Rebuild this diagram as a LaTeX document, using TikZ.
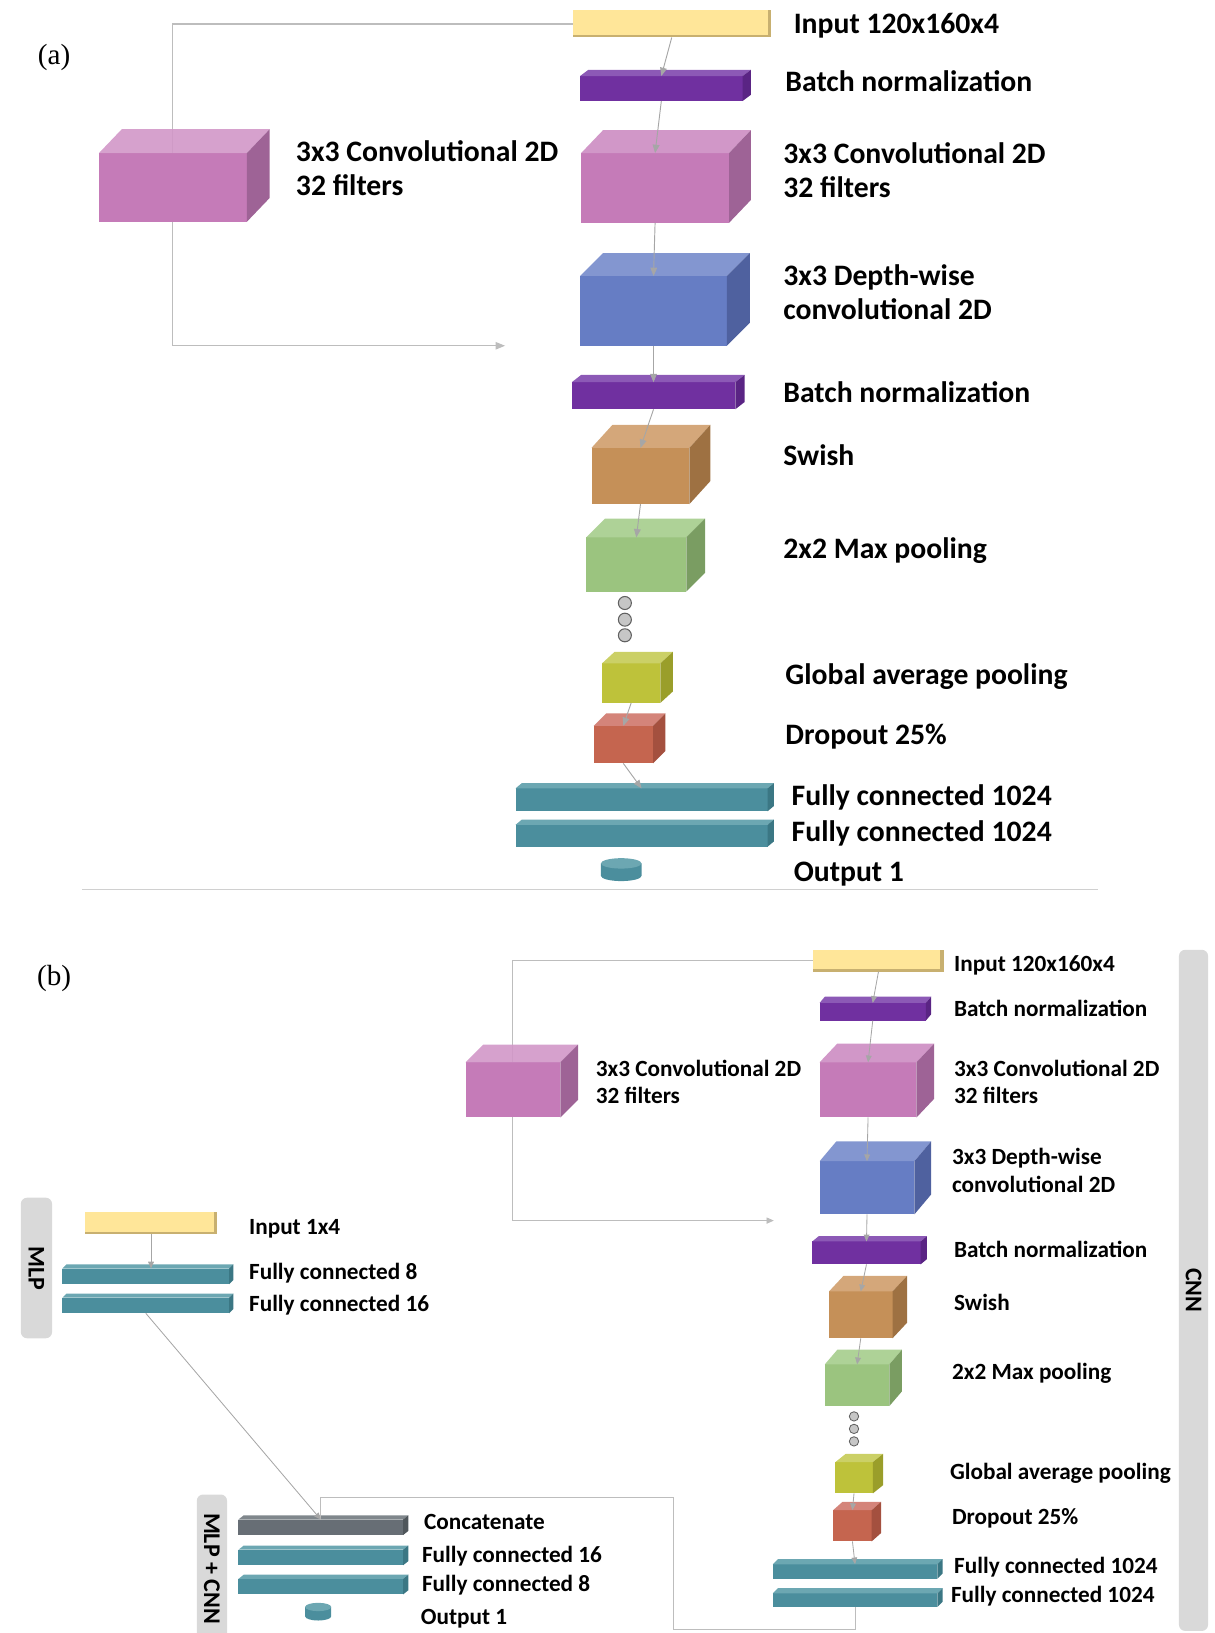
\documentclass[tikz,border=0pt]{standalone}
\usepackage{fontspec}
\setmainfont{Carlito}
\newfontfamily\serifpanel{Liberation Serif}
\usetikzlibrary{arrows.meta}
\pgfdeclarelayer{bg}
\pgfsetlayers{bg,main}
\definecolor{inp}{HTML}{FFE699}
\definecolor{inpE}{HTML}{C8B070}
\definecolor{bn}{HTML}{7030A0}\definecolor{bnT}{HTML}{8C59B6}\definecolor{bnS}{HTML}{5A2484}
\definecolor{cv}{HTML}{C57BB8}\definecolor{cvT}{HTML}{D197C8}\definecolor{cvS}{HTML}{9E6396}
\definecolor{dw}{HTML}{667DC4}\definecolor{dwT}{HTML}{8396D0}\definecolor{dwS}{HTML}{4F619F}
\definecolor{sw}{HTML}{C59058}\definecolor{swT}{HTML}{D4A77A}\definecolor{swS}{HTML}{9E7142}
\definecolor{mp}{HTML}{9BC47F}\definecolor{mpT}{HTML}{AED297}\definecolor{mpS}{HTML}{7A9D62}
\definecolor{gp}{HTML}{BEC23A}\definecolor{gpT}{HTML}{CBD066}\definecolor{gpS}{HTML}{9A9E2A}
\definecolor{dr}{HTML}{C5654F}\definecolor{drT}{HTML}{D4847A}\definecolor{drS}{HTML}{A4503F}
\definecolor{fc}{HTML}{4B8E9D}\definecolor{fcT}{HTML}{6CA7B2}\definecolor{fcS}{HTML}{3B7784}
\definecolor{ct}{HTML}{676E75}\definecolor{ctT}{HTML}{80878C}\definecolor{ctS}{HTML}{4F565B}
\definecolor{arr}{HTML}{A6A6A6}
\definecolor{skipc}{HTML}{BDBDBD}
\definecolor{barg}{HTML}{D9D9D9}
\definecolor{sepc}{HTML}{D0D0D0}
% #1 name, #2 x1, #3 y1, #4 x2, #5 y2, #6 depth x, #7 depth y, #8 colour
\newcommand{\blk}[8]{%
  \node[face,fill=#8,minimum width={(#4-#2)*1pt},minimum height={(#5-#3)*1pt}] (#1) at ({(#2+#4)/2},{(#3+#5)/2}) {};
  \fill[#8T,topface] (#1.north west) -- ++(#6,-#7) -- ++({#4-#2},0) -- (#1.north east) -- cycle;
  \fill[#8S] (#1.north east) -- ++(#6,-#7) -- ++(0,{#5-#3}) -- (#1.south east) -- cycle;
}
\newcommand{\inbar}[5]{%
  \node[face,fill=inp,minimum width={(#4-#2)*1pt},minimum height={(#5-#3)*1pt}] (#1) at ({(#2+#4)/2},{(#3+#5)/2}) {};
  \fill[inpE] ([xshift=-3pt]#1.north east) rectangle (#1.south east);
  \fill[inpE] ([yshift=2.5pt]#1.south west) rectangle (#1.south east);
}
\newcommand{\cyl}[6]{%
  \node[face,minimum width={(#4-#2)*1pt},minimum height={(#5-#3)*1pt}] (#1) at ({(#2+#4)/2},{(#3+#5)/2}) {};
  \fill[fc] ([yshift=-#6pt]#1.north west) -- ([yshift=#6pt]#1.south west)
     arc[start angle=180,end angle=360,x radius={(#4-#2)/2*1pt},y radius=#6pt]
     -- ([yshift=-#6pt]#1.north east) -- cycle;
  \fill[fcT] ([yshift=-#6pt]#1.north) ellipse[x radius={(#4-#2)/2*1pt},y radius=#6pt];
}
\begin{document}
\begin{tikzpicture}[x=1pt,y=-1pt,
  face/.style={rectangle,inner sep=0pt,outer sep=0pt,draw=none},
  topface/.style={},
  conn/.style={draw=arr,line width=0.9pt,-{Triangle[length=8pt,width=6.5pt]}},
  connb/.style={draw=arr,line width=0.8pt,-{Triangle[length=6.5pt,width=5.5pt]}},
  skipA/.style={draw=skipc,line width=1.1pt,-{Triangle[length=9pt,width=7pt]}},
  skipB/.style={draw=skipc,line width=0.9pt,-{Triangle[length=7pt,width=6pt]}},
  plain/.style={draw=skipc,line width=0.9pt},
  lblA/.style={anchor=west,inner sep=0pt,font=\bfseries\fontsize{28.5}{31}\selectfont,text height=23pt,text depth=5pt},
  lblB/.style={anchor=west,inner sep=0pt,font=\bfseries\fontsize{22.3}{24}\selectfont,text height=18pt,text depth=4pt},
  side/.style={fill=barg,rounded corners=6pt,inner sep=0pt,font=\bfseries\fontsize{23}{25}\selectfont,rotate=-90},
  dotA/.style={circle,fill=gray!45,draw=gray!75!black,line width=1pt,inner sep=0pt,minimum size=12.5pt},
  dotB/.style={circle,fill=gray!45,draw=gray!75!black,line width=0.8pt,inner sep=0pt,minimum size=9pt}
]
\useasboundingbox (0,0) rectangle (1166,1568);

% ---------------- (a) ----------------
\node[font=\serifpanel\fontsize{28}{30}\selectfont] (panA) at (52,55) {(a)};
\inbar{inA}{550}{10}{740}{36}
\blk{bn1a}{557}{73}{713}{97}{8}{6}{bn}
\blk{cva}{558}{147}{700}{214}{21}{22}{cv}
\blk{dwa}{557}{265}{698}{332}{22}{22}{dw}
\blk{bn2a}{549}{367}{706}{393}{9}{7}{bn}
\blk{swa}{568}{430}{662}{484}{20}{22}{sw}
\blk{mpa}{563}{516}{659}{568}{18}{18}{mp}
\node[dotA] (da1) at (600,579) {};
\node[dotA] (da2) at (600,595) {};
\node[dotA] (da3) at (600,610) {};
\blk{gpa}{578}{637}{634}{675}{12}{11}{gp}
\blk{dra}{570}{697}{627}{733}{12}{12}{dr}
\blk{fc1a}{495}{757}{737}{779}{6}{5}{fc}
\blk{fc2a}{495}{792}{737}{813}{6}{5}{fc}
\cyl{outA}{577}{824}{616}{846}{5}
\begin{scope}[topface/.style={fill opacity=0.9}]
\blk{cvLa}{95}{147}{237}{213}{22}{23}{cv}
\end{scope}
\coordinate (skA) at (485,332);
\begin{pgfonlayer}{bg}
\draw[skipA] (inA.west) -| (cvLa.center) |- (skA);
\end{pgfonlayer}
\draw[conn] (inA.south) -- (bn1a.north);
\draw[conn] (bn1a.south) -- (cva.north);
\draw[conn] (cva.south) -- (dwa.north);
\draw[conn] (dwa.south) -- (bn2a.north);
\draw[conn] (bn2a.south) -- (swa.north);
\draw[conn] (swa.south) -- (mpa.north);
\draw[conn] (gpa.south) -- (dra.north);
\draw[conn] (dra.south) -- (fc1a.north);

\node[lblA] (tInA) at (762,23) {Input 120x160x4};
\node[lblA] (tBn1a) at (754,79) {Batch normalization};
\node[lblA] (tCvLa1) at (284,146) {3x3 Convolutional 2D};
\node[lblA] (tCvLa2) at (284,179) {32 filters};
\node[lblA] (tCva1) at (752,148) {3x3 Convolutional 2D};
\node[lblA] (tCva2) at (752,181) {32 filters};
\node[lblA] (tDwa1) at (752,265) {3x3 Depth-wise};
\node[lblA] (tDwa2) at (752,298) {convolutional 2D};
\node[lblA] (tBn2a) at (752,377) {Batch normalization};
\node[lblA] (tSwa) at (752,438) {Swish};
\node[lblA] (tMpa) at (752,527) {2x2 Max pooling};
\node[lblA] (tGpa) at (754,648) {Global average pooling};
\node[lblA] (tDra) at (754,706) {Dropout 25\%};
\node[lblA] (tFc1a) at (760,764) {Fully connected 1024};
\node[lblA] (tFc2a) at (760,799) {Fully connected 1024};
\node[lblA] (tOuta) at (762,837) {Output 1};

\coordinate (sepL) at (79,854);
\coordinate (sepR) at (1054,854);
\draw[sepc,line width=1.5pt] (sepL) -- (sepR);

% ---------------- (b) ----------------
\node[font=\serifpanel\fontsize{28}{30}\selectfont] (panB) at (52,940) {(b)};
\node[side,minimum width=654pt,minimum height=28pt] (cnnBar) at (1146,1239) {CNN};
\node[side,minimum width=135pt,minimum height=30pt] (mlpBar) at (35,1217.5) {MLP};
\node[side,minimum width=142pt,minimum height=29pt] (mcBar) at (203.5,1506) {MLP + CNN};

\inbar{inB}{781}{912}{906}{933}
\blk{bn1b}{787}{963}{889}{980}{5}{6}{bn}
\blk{cvb}{787}{1020}{880}{1073}{17}{18}{cv}
\blk{dwb}{787}{1115}{878}{1166}{16}{19}{dw}
\blk{bn2b}{780}{1192}{884}{1214}{6}{5}{bn}
\blk{swb}{796}{1240}{857}{1285}{14}{15}{sw}
\blk{mpb}{792}{1310}{854}{1350}{12}{14}{mp}
\node[dotB] (db1) at (820,1360) {};
\node[dotB] (db2) at (820,1372) {};
\node[dotB] (db3) at (820,1384) {};
\blk{gpb}{802}{1404}{838}{1434}{10}{8}{gp}
\blk{drb}{800}{1450}{837}{1480}{9}{8}{dr}
\blk{fc1b}{742}{1502}{900}{1516}{5}{5}{fc}
\blk{fc2b}{742}{1530}{900}{1543}{5}{5}{fc}
\begin{scope}[topface/.style={fill opacity=0.9}]
\blk{cvLb}{447}{1020}{538}{1073}{17}{17}{cv}
\end{scope}

\inbar{mIn}{82}{1164}{208}{1185}
\blk{m8}{60}{1218}{220}{1233}{4}{4}{fc}
\blk{m16}{60}{1246}{220}{1261}{4}{4}{fc}

\blk{cat}{229}{1459}{387}{1474}{5}{4}{ct}
\blk{f16}{229}{1488}{387}{1503}{5}{4}{fc}
\blk{f8}{229}{1516}{387}{1531}{5}{4}{fc}
\cyl{outB}{293}{1539}{318}{1556}{4}

\coordinate (skB) at (743,1172);
\coordinate (j1) at (647,1565);
\coordinate (j2) at (647,1438);
\begin{pgfonlayer}{bg}
\draw[skipB] (inB.west) -| (cvLb.center) |- (skB);
\end{pgfonlayer}
\draw[connb] (inB.south) -- (bn1b.north);
\draw[connb] (bn1b.south) -- (cvb.north);
\draw[connb] (cvb.south) -- (dwb.north);
\draw[connb] (dwb.south) -- (bn2b.north);
\draw[connb] (bn2b.south) -- (swb.north);
\draw[connb] (swb.south) -- (mpb.north);
\draw[connb] (gpb.south) -- (drb.north);
\draw[connb] (drb.south) -- (fc1b.north);
\draw[connb] (mIn.south) -- (mIn.south |- m8.north);
\draw[plain] (fc2b.south) |- (j1) -- (j2) -| (cat.north);
\draw[connb] (m16.south) -- (cat.north);

\node[lblB] (tInB) at (916,926) {Input 120x160x4};
\node[lblB] (tBn1b) at (916,969) {Batch normalization};
\node[lblB] (tCvLb1) at (572,1027) {3x3 Convolutional 2D};
\node[lblB] (tCvLb2) at (572,1053) {32 filters};
\node[lblB] (tCvb1) at (916,1027) {3x3 Convolutional 2D};
\node[lblB] (tCvb2) at (916,1053) {32 filters};
\node[lblB] (tDwb1) at (914,1111) {3x3 Depth-wise};
\node[lblB] (tDwb2) at (914,1138) {convolutional 2D};
\node[lblB] (tBn2b) at (916,1200) {Batch normalization};
\node[lblB] (tSwb) at (916,1251) {Swish};
\node[lblB] (tMpb) at (914,1318) {2x2 Max pooling};
\node[lblB] (tGpb) at (912,1414) {Global average pooling};
\node[lblB] (tDrb) at (914,1457) {Dropout 25\%};
\node[lblB] (tFc1b) at (916,1504) {Fully connected 1024};
\node[lblB] (tFc2b) at (913,1532) {Fully connected 1024};
\node[lblB] (tMIn) at (239,1178) {Input 1x4};
\node[lblB] (tM8) at (239,1222) {Fully connected 8};
\node[lblB] (tM16) at (239,1252) {Fully connected 16};
\node[lblB] (tCat) at (407,1462) {Concatenate};
\node[lblB] (tF16) at (405,1493) {Fully connected 16};
\node[lblB] (tF8) at (405,1521) {Fully connected 8};
\node[lblB] (tOutb) at (404,1553) {Output 1};
\end{tikzpicture}
\end{document}
